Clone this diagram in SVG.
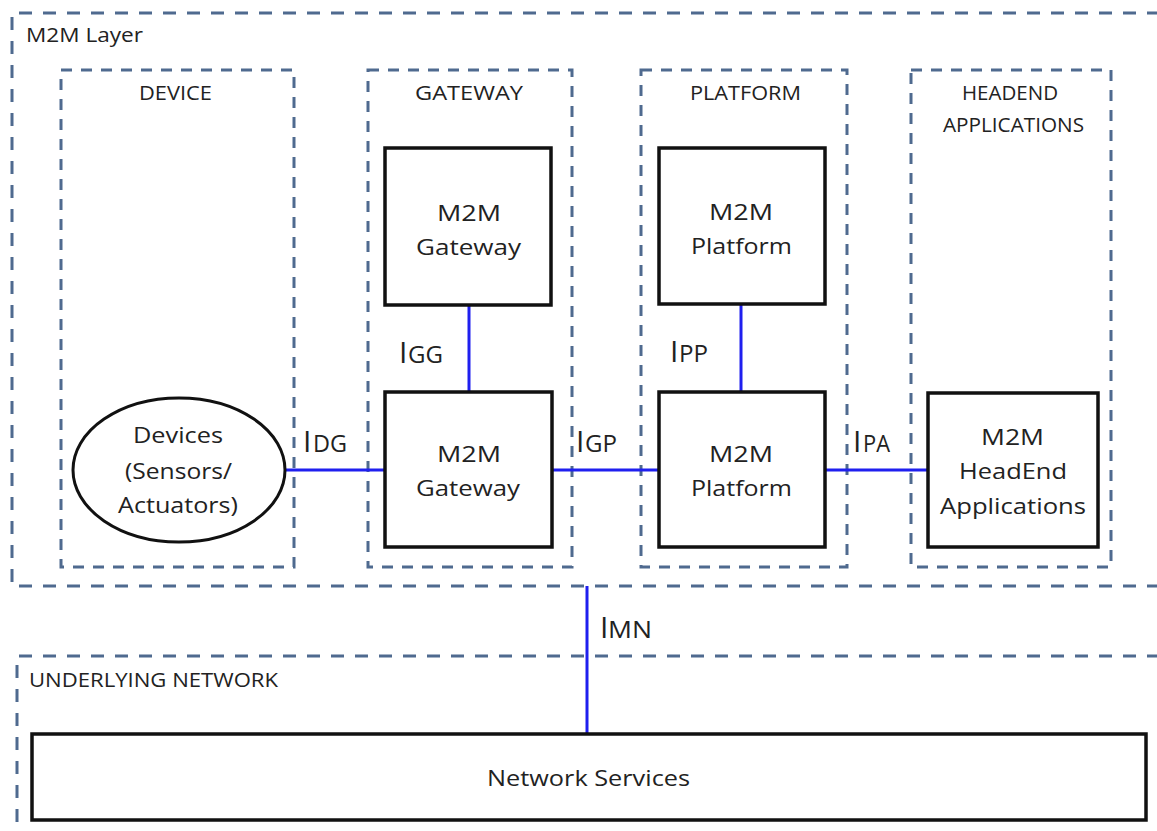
<svg xmlns="http://www.w3.org/2000/svg" width="1157" height="831" viewBox="0 0 1157 831">
<style>
.zone{fill:none;stroke:#4f6a8f;stroke-width:3}
.outer{stroke-dasharray:13 11}
.inner{stroke-dasharray:11 9}
.box{fill:#fff;stroke:#111;stroke-width:3.5}
.t{font-family:"Open Sans","DejaVu Sans",sans-serif;font-size:22px;fill:#222}
.h{font-size:20px}
.big{font-size:30px}
.sub{font-size:23px}
.link{stroke:#1f1fef;stroke-width:3;fill:none}
</style>
<rect width="1157" height="831" fill="#fff"/>
<g id="m2m-layer">
<path class="zone outer" d="M1160 13 H12 V586 H1160"/>
<text class="t h" x="26" y="42" textLength="117" lengthAdjust="spacingAndGlyphs">M2M Layer</text>
</g>
<g id="device-zone">
<rect class="zone inner" x="61" y="70" width="233" height="497"/>
<text class="t h" x="139" y="100" textLength="73" lengthAdjust="spacingAndGlyphs">DEVICE</text>
</g>
<g id="gateway-zone">
<rect class="zone inner" x="368" y="70" width="204" height="497"/>
<text class="t h" x="415" y="100" textLength="108" lengthAdjust="spacingAndGlyphs">GATEWAY</text>
</g>
<g id="platform-zone">
<rect class="zone inner" x="641" y="70" width="206" height="497"/>
<text class="t h" x="690" y="100" textLength="111" lengthAdjust="spacingAndGlyphs">PLATFORM</text>
</g>
<g id="headend-zone">
<rect class="zone inner" x="911" y="70" width="200" height="497"/>
<text class="t h" x="962" y="100" textLength="96" lengthAdjust="spacingAndGlyphs">HEADEND</text>
<text class="t h" x="943" y="132" textLength="141" lengthAdjust="spacingAndGlyphs">APPLICATIONS</text>
</g>
<g id="underlying-network">
<path class="zone outer" d="M1160 656 H17 V834"/>
<text class="t h" x="29" y="687" textLength="249" lengthAdjust="spacingAndGlyphs">UNDERLYING  NETWORK</text>
</g>
<g id="connectors">
<line class="link" x1="285" y1="470" x2="385" y2="470"/>
<line class="link" x1="552" y1="470" x2="659" y2="470"/>
<line class="link" x1="825" y1="470" x2="928" y2="470"/>
<line class="link" x1="469" y1="305" x2="469" y2="392"/>
<line class="link" x1="741" y1="304" x2="741" y2="392"/>
<line class="link" x1="587" y1="586" x2="587" y2="734"/>
<text class="t"><tspan class="big" x="303" y="452">I</tspan><tspan class="sub" x="313" y="452" textLength="34" lengthAdjust="spacingAndGlyphs">DG</tspan></text>
<text class="t"><tspan class="big" x="399" y="363">I</tspan><tspan class="sub" x="408" y="363" textLength="35" lengthAdjust="spacingAndGlyphs">GG</tspan></text>
<text class="t"><tspan class="big" x="576" y="452">I</tspan><tspan class="sub" x="585" y="452" textLength="32" lengthAdjust="spacingAndGlyphs">GP</tspan></text>
<text class="t"><tspan class="big" x="670" y="362">I</tspan><tspan class="sub" x="679" y="362" textLength="29" lengthAdjust="spacingAndGlyphs">PP</tspan></text>
<text class="t"><tspan class="big" x="853" y="452">I</tspan><tspan class="sub" x="863" y="452" textLength="27" lengthAdjust="spacingAndGlyphs">PA</tspan></text>
<text class="t"><tspan class="big" x="600" y="638">I</tspan><tspan class="sub" x="608" y="638" textLength="44" lengthAdjust="spacingAndGlyphs">MN</tspan></text>
</g>
<g id="devices">
<ellipse cx="179" cy="470" rx="106" ry="72" fill="#fff" stroke="#111" stroke-width="3"/>
<text class="t" x="133" y="443" textLength="90" lengthAdjust="spacingAndGlyphs">Devices</text>
<text class="t" x="125" y="479" textLength="107" lengthAdjust="spacingAndGlyphs">(Sensors/</text>
<text class="t" x="118" y="513" textLength="120" lengthAdjust="spacingAndGlyphs">Actuators)</text>
</g>
<g id="gateway-upper">
<rect class="box" x="385" y="148" width="166" height="157"/>
<text class="t" x="437" y="221" textLength="64" lengthAdjust="spacingAndGlyphs">M2M</text>
<text class="t" x="416" y="255" textLength="105" lengthAdjust="spacingAndGlyphs">Gateway</text>
</g>
<g id="gateway-lower">
<rect class="box" x="385" y="392" width="167" height="155"/>
<text class="t" x="437" y="462" textLength="64" lengthAdjust="spacingAndGlyphs">M2M</text>
<text class="t" x="416" y="496" textLength="104" lengthAdjust="spacingAndGlyphs">Gateway</text>
</g>
<g id="platform-upper">
<rect class="box" x="659" y="148" width="166" height="156"/>
<text class="t" x="709" y="220" textLength="64" lengthAdjust="spacingAndGlyphs">M2M</text>
<text class="t" x="691" y="254" textLength="101" lengthAdjust="spacingAndGlyphs">Platform</text>
</g>
<g id="platform-lower">
<rect class="box" x="659" y="392" width="166" height="155"/>
<text class="t" x="709" y="462" textLength="64" lengthAdjust="spacingAndGlyphs">M2M</text>
<text class="t" x="691" y="496" textLength="101" lengthAdjust="spacingAndGlyphs">Platform</text>
</g>
<g id="headend-apps">
<rect class="box" x="928" y="393" width="170" height="154"/>
<text class="t" x="981" y="445" textLength="63" lengthAdjust="spacingAndGlyphs">M2M</text>
<text class="t" x="959" y="479" textLength="108" lengthAdjust="spacingAndGlyphs">HeadEnd</text>
<text class="t" x="940" y="514" textLength="146" lengthAdjust="spacingAndGlyphs">Applications</text>
</g>
<g id="network-services">
<rect class="box" x="32" y="734" width="1114" height="86"/>
<text class="t" x="487" y="786" textLength="203" lengthAdjust="spacingAndGlyphs">Network Services</text>
</g>
</svg>
